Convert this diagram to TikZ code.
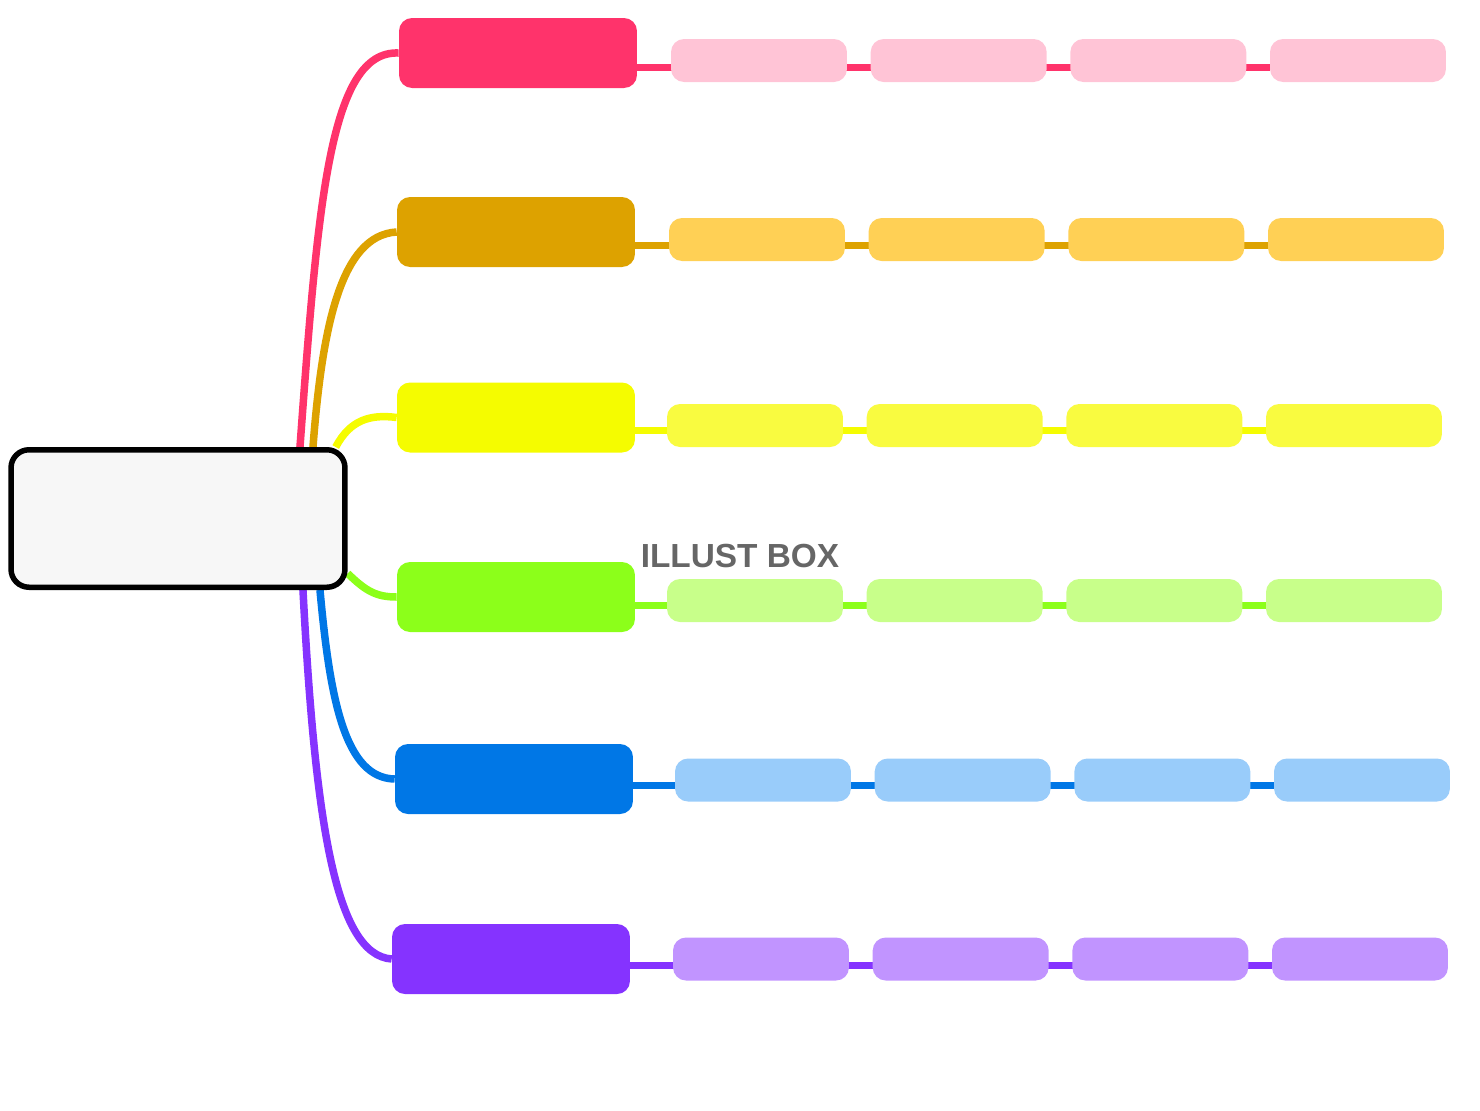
\documentclass[tikz,border=0pt]{standalone}
\usepackage{fontspec}
\usepackage{tikz}
\usetikzlibrary{positioning, backgrounds}
\newfontfamily\markfont{Liberation Sans}
\definecolor{PinkMain}{HTML}{FF336B}
\definecolor{PinkLeaf}{HTML}{FFC4D6}
\definecolor{GoldMain}{HTML}{DDA200}
\definecolor{GoldLeaf}{HTML}{FFD055}
\definecolor{YellowMain}{HTML}{F5FC00}
\definecolor{YellowLeaf}{HTML}{F9FB40}
\definecolor{GreenMain}{HTML}{8CFF1A}
\definecolor{GreenLeaf}{HTML}{C8FF8A}
\definecolor{BlueMain}{HTML}{0077E6}
\definecolor{BlueLeaf}{HTML}{99CCFA}
\definecolor{PurpleMain}{HTML}{8533FF}
\definecolor{PurpleLeaf}{HTML}{C194FF}
\tikzstyle{centre} = [rectangle, rounded corners=0.36cm, line width=0.11cm, minimum width=6.68cm, minimum height=2.75cm, draw=black, fill={rgb,255:red,247;green,247;blue,247}]
\tikzstyle{topic} = [rectangle, rounded corners=0.26cm, minimum width=4.76cm, minimum height=1.4cm, inner sep=0pt]
\tikzstyle{leaf} = [rectangle, rounded corners=0.26cm, minimum width=3.52cm, minimum height=0.86cm, inner sep=0pt]
\tikzstyle{spoke} = [line width=0.15cm]
\tikzstyle{link} = [line width=0.14cm]

\begin{document}
\begin{tikzpicture}[x=0.02cm, y=-0.02cm, node distance = 0.46cm]
		\useasboundingbox (0,0) rectangle (1480,1110);
		\node (Centre) [centre] at (178,518.5) {};
		% topics
		\node (Pink) [topic, fill=PinkMain] at (518,53) {};
		\node (Gold) [topic, fill=GoldMain] at (516,232) {};
		\node (Yellow) [topic, fill=YellowMain] at (516,417.5) {};
		\node (Green) [topic, fill=GreenMain] at (516,597) {};
		\node (Blue) [topic, fill=BlueMain] at (514,779) {};
		\node (Purple) [topic, fill=PurpleMain] at (511,959) {};
		% leaves
		\node (PinkA) [leaf, fill=PinkLeaf] at (759,60.5) {};
		\node (PinkB) [leaf, fill=PinkLeaf, right = of PinkA] {};
		\node (PinkC) [leaf, fill=PinkLeaf, right = of PinkB] {};
		\node (PinkD) [leaf, fill=PinkLeaf, right = of PinkC] {};
		\node (GoldA) [leaf, fill=GoldLeaf] at (757,239.5) {};
		\node (GoldB) [leaf, fill=GoldLeaf, right = of GoldA] {};
		\node (GoldC) [leaf, fill=GoldLeaf, right = of GoldB] {};
		\node (GoldD) [leaf, fill=GoldLeaf, right = of GoldC] {};
		\node (YellowA) [leaf, fill=YellowLeaf] at (755,425.5) {};
		\node (YellowB) [leaf, fill=YellowLeaf, right = of YellowA] {};
		\node (YellowC) [leaf, fill=YellowLeaf, right = of YellowB] {};
		\node (YellowD) [leaf, fill=YellowLeaf, right = of YellowC] {};
		\node (GreenA) [leaf, fill=GreenLeaf] at (755,600.5) {};
		\node (GreenB) [leaf, fill=GreenLeaf, right = of GreenA] {};
		\node (GreenC) [leaf, fill=GreenLeaf, right = of GreenB] {};
		\node (GreenD) [leaf, fill=GreenLeaf, right = of GreenC] {};
		\node (BlueA) [leaf, fill=BlueLeaf] at (763,780) {};
		\node (BlueB) [leaf, fill=BlueLeaf, right = of BlueA] {};
		\node (BlueC) [leaf, fill=BlueLeaf, right = of BlueB] {};
		\node (BlueD) [leaf, fill=BlueLeaf, right = of BlueC] {};
		\node (PurpleA) [leaf, fill=PurpleLeaf] at (761,959) {};
		\node (PurpleB) [leaf, fill=PurpleLeaf, right = of PurpleA] {};
		\node (PurpleC) [leaf, fill=PurpleLeaf, right = of PurpleB] {};
		\node (PurpleD) [leaf, fill=PurpleLeaf, right = of PurpleC] {};
		\node (Watermark) at (740,556) {\markfont\bfseries\fontsize{19pt}{19pt}\selectfont\color[HTML]{666666}ILLUST BOX};
		\coordinate (PinkLine) at (0,67);
		\coordinate (GoldLine) at (0,245);
		\coordinate (YellowLine) at (0,430);
		\coordinate (GreenLine) at (0,605);
		\coordinate (BlueLine) at (0,785);
		\coordinate (PurpleLine) at (0,965);
		\begin{scope}[on background layer]
		\draw [spoke, PinkMain] ([xshift=2.44cm]Centre.north) .. controls (318,200) and (330,50) .. (Pink.west);
		\draw [spoke, GoldMain] ([xshift=2.7cm]Centre.north) .. controls (322,330) and (340,235) .. (Gold.west);
		\draw [spoke, YellowMain] ([xshift=-0.24cm]Centre.north east) .. controls (350,420) and (370,414) .. (Yellow.west);
		\draw [spoke, GreenMain] ([yshift=-1.1cm]Centre.east) .. controls (365,590) and (375,597) .. (Green.west);
		\draw [spoke, BlueMain] ([xshift=2.84cm]Centre.south) .. controls (330,700) and (345,778) .. (Blue.west);
		\draw [spoke, PurpleMain] ([xshift=2.5cm]Centre.south) .. controls (315,820) and (335,955) .. (Purple.west);
		\draw [link, PinkMain] (Pink.east |- PinkLine) -- (PinkD.west |- PinkLine);
		\draw [link, GoldMain] (Gold.east |- GoldLine) -- (GoldD.west |- GoldLine);
		\draw [link, YellowMain] (Yellow.east |- YellowLine) -- (YellowD.west |- YellowLine);
		\draw [link, GreenMain] (Green.east |- GreenLine) -- (GreenD.west |- GreenLine);
		\draw [link, BlueMain] (Blue.east |- BlueLine) -- (BlueD.west |- BlueLine);
		\draw [link, PurpleMain] (Purple.east |- PurpleLine) -- (PurpleD.west |- PurpleLine);
		\end{scope}
\end{tikzpicture}
\end{document}
